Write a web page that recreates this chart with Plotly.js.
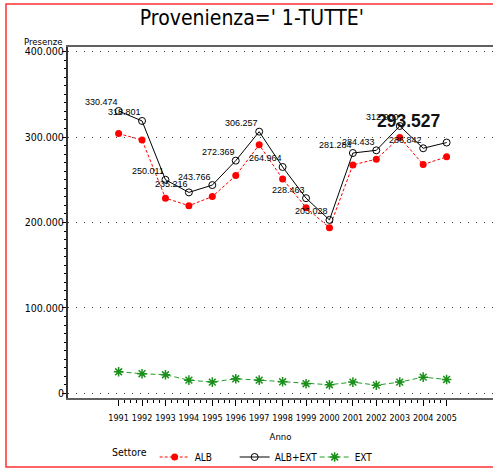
<!DOCTYPE html>
<html>
<head>
<meta charset="utf-8">
<script src="https://cdn.plot.ly/plotly-3.0.1.min.js"></script>
<style>
html,body{margin:0;padding:0;background:#fff;overflow:hidden;}
#chart{width:493px;height:470px;}
</style>
</head>
<body>
<div id="chart"></div>
<script>
// ---- data ----
const years = [1991,1992,1993,1994,1995,1996,1997,1998,1999,2000,2001,2002,2003,2004,2005];
const alb    = [304000,296500,228500,219700,230300,254900,290900,251000,217400,193900,267400,274100,299500,267800,276800];
const albExt = [330474,318801,250011,235216,243766,272369,306257,264964,228463,203028,281284,284433,312900,286842,293527];
const ext    = [25400,23100,21900,15600,13300,17200,15600,13700,11400,10200,13300,9700,13300,19100,16400];
const seriesNames = ['ALB','ALB+EXT','EXT'];
const yTickVals = [0,100000,200000,300000,400000];

const NARROW = '"DejaVu Sans Condensed", "DejaVu Sans", sans-serif';
const SANS = '"Liberation Sans", Arial, sans-serif';

function fmt(v){ return (v/1000).toFixed(3); }

const traces = [
  {x: years, y: alb, name: seriesNames[0], type:'scatter', mode:'lines+markers',
   line:{color:'#ff0000', width:1, dash:'3px,2px'},
   marker:{symbol:'circle', size:7, color:'#ff0000'}},
  {x: years, y: albExt, name: seriesNames[1], type:'scatter', mode:'lines+markers',
   line:{color:'#000000', width:1},
   marker:{symbol:'circle-open', size:7, color:'#000000', line:{width:1}}},
  {x: years, y: ext, name: seriesNames[2], type:'scatter', mode:'lines+markers',
   line:{color:'#22a022', width:1, dash:'5px,3px'},
   marker:{symbol:'asterisk-open', size:8, color:'#1a901a', line:{width:1.5, color:'#1a901a'}}}
];

// data labels on ALB+EXT
const annotations = [];
years.forEach((yr,i)=>{
  const last = i === years.length-1;
  annotations.push({
    x: yr, y: albExt[i], xref:'x', yref:'y', text: fmt(albExt[i]), showarrow:false,
    xanchor:'right', yanchor:'middle',
    xshift: last ? -5 : 1, yshift: last ? 22 : 8.5,
    font: last ? {family:SANS, size:17.5, color:'#111', weight:'bold'} : {family:SANS, size:9, color:'#000'}
  });
});
annotations.push({text:'Presenze', xref:'paper', yref:'paper', x:(43-68)/425, y:(398-41)/351,
  xanchor:'center', yanchor:'middle', showarrow:false, font:{family:NARROW, size:9.5, color:'#000'}});

// minor tick positions on x between years
const xMinor = [];
for (let i=0;i<years.length-1;i++){ for (let k=1;k<4;k++){ xMinor.push(years[i]+k/4); } }

const layout = {
  width:493, height:470,
  margin:{l:68, r:0, t:47, b:72, autoexpand:false},
  paper_bgcolor:'#fff', plot_bgcolor:'#fff',
  separators:',.',
  font:{family:NARROW, size:10, color:'#000'},
  title:{text:"Provenienza=' 1-TUTTE'", xref:'container', yref:'container', x:0.511, xanchor:'center', y:1-18/470, yanchor:'middle',
         font:{family:NARROW, size:21, color:'#000'}},
  showlegend:true,
  legend:{orientation:'h', xref:'container', yref:'container', x:110/493, xanchor:'left', y:1-457/470, yanchor:'middle',
          title:{text:'Settore', side:'left', font:{family:NARROW, size:10.5}},
          entrywidth:35, entrywidthmode:'pixels', font:{family:NARROW, size:10}, bgcolor:'rgba(0,0,0,0)', borderwidth:0, traceorder:'normal'},
  xaxis:{range:[1988.84,2006.98], tickmode:'array', tickvals:years, ticktext:years.map(String), tickangle:0,
         showgrid:false, zeroline:false, showline:true, linecolor:'#606060', linewidth:2, mirror:true,
         ticks:'outside', ticklen:6, tickwidth:1, tickcolor:'#000', ticklabelstandoff:4,
         minor:{tickmode:'array', tickvals:xMinor, ticks:'outside', ticklen:3, tickwidth:1, tickcolor:'#000', showgrid:false},
         tickfont:{family:NARROW, size:9},
         title:{text:'Anno', standoff:14, font:{family:NARROW, size:9.5}}},
  yaxis:{range:[-5300,405300], tickmode:'array', tickvals:yTickVals, tickformat:',d',
         showgrid:true, gridcolor:'#444', gridwidth:1, griddash:'1px,7px', zeroline:false,
         showline:true, linecolor:'#333', linewidth:2, mirror:false,
         ticks:'outside', ticklen:4, tickwidth:1, tickcolor:'#000', ticklabelstandoff:-4,
         minor:{dtick:10000, tick0:0, ticks:'outside', ticklen:2, tickwidth:1, tickcolor:'#000', showgrid:false},
         tickfont:{family:NARROW, size:10.5}},
  annotations: annotations,
  shapes:[{type:'rect', xref:'paper', yref:'paper', x0:(6-68)/425, x1:(520-68)/425, y0:(398-467)/351, y1:(398-4)/351,
           line:{color:'#ff3030', width:1.5}, layer:'below'}]
};

Plotly.newPlot('chart', traces, layout, {displayModeBar:false, staticPlot:true});
</script>
</body>
</html>
